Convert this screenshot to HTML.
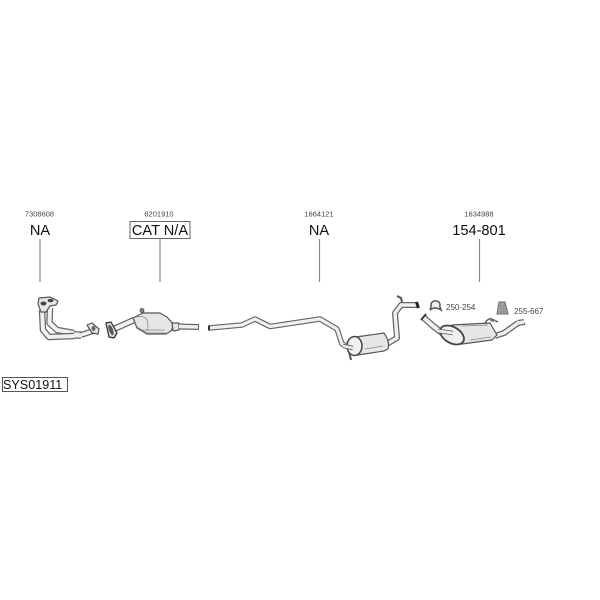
<!DOCTYPE html>
<html><head><meta charset="utf-8"><style>
html,body{margin:0;padding:0;background:#fff}
svg{display:block}
text{font-family:"Liberation Sans",sans-serif;fill:#222}
.n{font-size:7.5px;text-anchor:middle;fill:#444}
.b{font-size:14.6px;text-anchor:middle;fill:#111}
.o{fill:none;stroke:#666;stroke-linejoin:round}
.i{fill:none;stroke:#f0f0f0;stroke-linejoin:round}
.s{fill:#e6e6e6;stroke:#555;stroke-width:1.200;stroke-linejoin:round}
.t{fill:none;stroke:#888;stroke-width:.8}
.parts{filter:blur(.35px)}
</style></head><body>
<svg width="600" height="600" viewBox="0 0 600 600" xmlns="http://www.w3.org/2000/svg">
<rect width="600" height="600" fill="#fff"/>

<text class="n" x="39.500" y="216.500">7308608</text>
<text class="n" x="159" y="216.500">6201910</text>
<text class="n" x="319" y="216.500">1664121</text>
<text class="n" x="479" y="216.500">1634988</text>
<text class="b" x="40" y="235">NA</text>
<text class="b" x="160" y="235">CAT N/A</text>
<text class="b" x="319" y="235">NA</text>
<text class="b" x="479" y="235">154-801</text>
<rect x="130" y="221.500" width="60" height="17" fill="none" stroke="#666" stroke-width="1"/>
<g stroke="#888" stroke-width="1.200">
<line x1="40" y1="239" x2="40" y2="282"/>
<line x1="160" y1="239" x2="160" y2="282"/>
<line x1="319.500" y1="239" x2="319.500" y2="282"/>
<line x1="479.500" y1="239" x2="479.500" y2="282"/>
</g>
<rect x="2.500" y="377.500" width="65" height="14" fill="#fff" stroke="#555" stroke-width="1"/>
<text x="3" y="389" style="font-size:12.600px;fill:#111">SYS01911</text>

<g class="parts">
<!-- front pipe -->
<path class="o" stroke-width="6.500" d="M50 308L49.500 323L57 330L74 333"/>
<path class="i" stroke-width="4" d="M50 308L49.500 323L57 330L74 333"/>
<path class="o" stroke-width="6.500" d="M42 310L43 330L49 337L74 336"/>
<path class="i" stroke-width="4" d="M42 310L43 330L49 337L74 336"/>
<path class="s" d="M39 298L50 297L58 301L56 305L50 306L46 312L41 312L38 304Z"/>
<ellipse cx="43.500" cy="303.500" rx="3" ry="2" fill="#444"/><ellipse cx="50.500" cy="300.500" rx="3" ry="1.800" fill="#444"/>
<path class="o" stroke-width="7.500" d="M74 335L81 335"/>
<path class="i" stroke-width="5" d="M74 335L81 335"/>
<path class="o" stroke-width="6" d="M81 335L93 331"/>
<path class="i" stroke-width="3.500" d="M81 335L93 331"/>
<path class="s" d="M87 325L92 323L99 329L98 334L92 333Z"/>
<ellipse cx="93.500" cy="328.500" rx="2" ry="2.500" fill="#666"/>

<!-- catalytic converter -->
<path class="o" stroke-width="6.500" d="M114 329L123 325L134 320"/>
<path class="i" stroke-width="4" d="M114 329L123 325L134 320"/>
<path d="M106 323L111 322L117 333L114 338L109 337Z" fill="#ddd" stroke="#333" stroke-width="1.300" stroke-linejoin="round"/>
<ellipse cx="111" cy="330" rx="2" ry="5.500" transform="rotate(-20 111 330)" fill="#555"/>
<path class="s" d="M133 318L143 313L160 313L167 317L174 325L171 331L166 334L147 334L137 328Z"/>
<path class="t" d="M134 318Q143 314 147 320Q149 326 147 331M137 327L147 333L166 333M143 330L165 330"/>
<circle cx="142" cy="310.500" r="2" fill="#888" stroke="#444" stroke-width=".8"/>
<path class="s" d="M172 323L179 323L179 330L173 331Z"/>
<path class="o" stroke-width="6" d="M179 326.500L198 327"/>
<path class="i" stroke-width="3.500" d="M179 326.500L198 327"/>
<path d="M198.500 324V330" stroke="#666" stroke-width="1"/>

<!-- centre pipe -->
<path class="o" stroke-width="5.500" d="M209 328L242 325L255 319L270 326.500L320 319L337 329L342 344L352 348"/>
<path class="i" stroke-width="3.200" d="M209 328L242 325L255 319L270 326.500L320 319L337 329L342 344L352 348"/>
<path d="M209 325.500V330.500" stroke="#333" stroke-width="2"/>
<path class="o" stroke-width="6" d="M385 345L397 338L395 313L401 305L417 305"/>
<path class="i" stroke-width="3.500" d="M385 345L397 338L395 313L401 305L417 305"/>
<path d="M416.500 302L418.500 308" stroke="#222" stroke-width="3"/>
<path d="M397 296L401 298L402 302" fill="none" stroke="#555" stroke-width="2"/>
<path class="s" d="M356 337L384 333Q390 341 388 349L384 351L358 355Z"/>
<path class="t" d="M365 349L383 346"/>
<ellipse cx="354.500" cy="346" rx="7.500" ry="9.500" fill="#f0f0f0" stroke="#444" stroke-width="1.500"/>
<path class="o" stroke-width="4.500" d="M343 346L353 348"/>
<path class="i" stroke-width="2.500" d="M343 346L353 348"/>
<path d="M349 352L351 360" stroke="#555" stroke-width="2"/>

<!-- rear silencer -->
<path class="o" stroke-width="6.500" d="M423 317L433 326L441 332L453 331"/>
<path class="i" stroke-width="4" d="M423 317L433 326L441 332L453 331"/>
<path d="M421 320L426 314" stroke="#333" stroke-width="1.800"/>
<path class="o" stroke-width="6" d="M495 336L504 333L518 323"/>
<path class="i" stroke-width="3.500" d="M495 336L504 333L518 323"/>
<path d="M523 320.500L525 325" stroke="#666" stroke-width="1"/>
<path class="o" stroke-width="6" d="M518 323L524 322"/>
<path class="i" stroke-width="3.500" d="M518 323L524 322"/>
<path class="s" d="M452 325L490 323L497 335L492 340L462 344Z"/>
<path class="t" d="M470 340L491 337M462 326L488 325"/>
<ellipse cx="452" cy="335" rx="13" ry="8" transform="rotate(30 452 335)" fill="#f0f0f0" stroke="#444" stroke-width="1.800"/>
<path class="o" stroke-width="4.500" d="M438 331L453 333"/>
<path class="i" stroke-width="2.800" d="M438 331L453 333"/>
<path d="M485 323Q488 318 492 319L498 322" fill="none" stroke="#555" stroke-width="1.300"/>
<ellipse cx="493" cy="320.500" rx="3" ry="1.300" fill="#777"/>

<!-- clamp -->
<path d="M430 310Q431.500 306.500 431 304A4.800 4.800 0 0 1 440 304Q439.500 306.500 441 310Q435 306 430 310Z" fill="#eee" stroke="#555" stroke-width="1.500"/>
<!-- rubber -->
<path d="M499 302L505 302L508 314L497 314Z" fill="#b5b5b5" stroke="#666" stroke-width="1"/>
<path d="M498 306H506M498 309H507M498 312H507M501 302V313M504 302V313" stroke="#777" stroke-width=".7"/>
</g>
<text x="446" y="310" style="font-size:8px;fill:#444">250-254</text>
<text x="514" y="314" style="font-size:8px;fill:#444">255-667</text>
</svg>
</body></html>
